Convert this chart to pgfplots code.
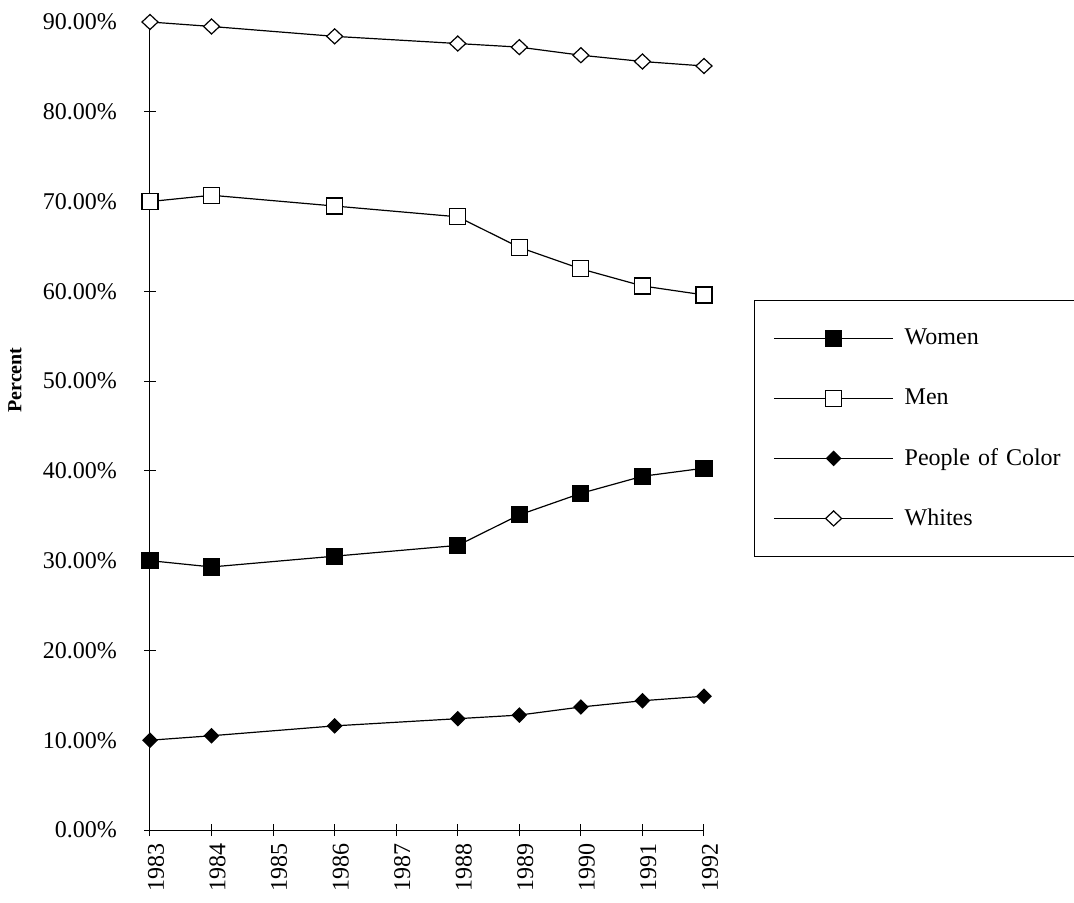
\documentclass[border=0pt]{standalone}
\usepackage{pgfplots}
\pgfplotsset{compat=1.18}
\usepackage{fontspec}
\setmainfont{Liberation Serif}
\begin{document}
\begin{tikzpicture}
\useasboundingbox (0,0) rectangle (537pt,451.5pt);
\clip (0,0) rectangle (537pt,451.5pt);
\begin{axis}[
  at={(75pt,36.5pt)}, anchor=south west, scale only axis,
  width=277pt, height=404pt,
  xmin=1983, xmax=1992, ymin=0, ymax=90,
  clip=false,
  axis x line*=bottom, axis y line*=left,
  axis line style={-, line width=0.5pt},
  xtick={1983,...,1992}, ytick={0,10,...,90},
  yticklabels={0.00\%,10.00\%,20.00\%,30.00\%,40.00\%,50.00\%,60.00\%,70.00\%,80.00\%,90.00\%},
  xticklabels={1983,1984,1985,1986,1987,1988,1989,1990,1991,1992},
  tick align=center, major tick length=6pt,
  tick style={black, line width=0.5pt},
  tick label style={font=\fontsize{12}{14}\selectfont},
  yticklabel style={xshift=-10pt},
  xticklabel style={rotate=90, anchor=east, yshift=-3pt},
  ylabel={Percent},
  ylabel style={font=\fontsize{10}{12}\selectfont\bfseries, at={(axis description cs:-0.2437,0.557)}, rotate=0, anchor=center},
  every axis plot/.append style={black, line width=0.6pt},
  legend image code/.code={\draw[mark repeat=2,mark phase=2] plot coordinates {(0pt,0pt) (29.75pt,0pt) (59.5pt,0pt)};},
  legend style={at={(axis description cs:1.0903,0.656)}, anchor=north west,
    draw=black, line width=0.5pt, inner xsep=9.5pt, inner ysep=4pt,
    font=\fontsize{12}{14}\selectfont, row sep=0pt, column sep=5.5pt,
    nodes={inner sep=0pt, minimum height=30pt, text width=90pt, align=left}},
  legend cell align=left,
]
\addplot[mark=square*, mark size=4pt, mark options={solid, fill=black}] coordinates {
(1983,30.0) (1984,29.3) (1986,30.5) (1988,31.7) (1989,35.1) (1990,37.5) (1991,39.4) (1992,40.3)};
\addlegendentry{Women}
\addplot[mark=square*, mark size=4pt, mark options={solid, fill=white}] coordinates {
(1983,70.0) (1984,70.7) (1986,69.5) (1988,68.3) (1989,64.9) (1990,62.5) (1991,60.6) (1992,59.6)};
\addlegendentry{Men}
\addplot[mark=diamond*, mark size=3.5pt, mark options={solid, fill=black, xscale=1.33}] coordinates {
(1983,10.0) (1984,10.5) (1986,11.6) (1988,12.4) (1989,12.8) (1990,13.7) (1991,14.4) (1992,14.9)};
\addlegendentry{People of Color}
\addplot[mark=diamond*, mark size=3.75pt, mark options={solid, fill=white, xscale=1.42}] coordinates {
(1983,90.0) (1984,89.5) (1986,88.4) (1988,87.6) (1989,87.2) (1990,86.3) (1991,85.6) (1992,85.1)};
\addlegendentry{Whites}
\end{axis}
\end{tikzpicture}
\end{document}
